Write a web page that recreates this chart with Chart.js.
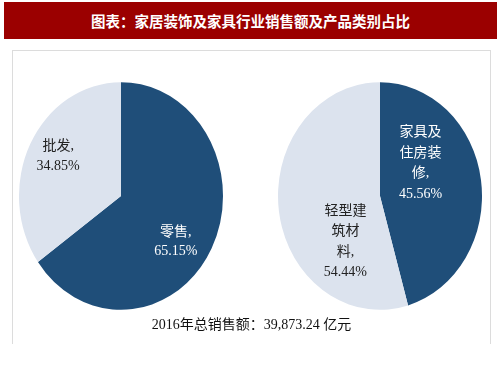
<!DOCTYPE html>
<html>
<head>
<meta charset="utf-8">
<script src="https://cdn.jsdelivr.net/npm/chart.js@4/dist/chart.umd.min.js"></script>
<style>
  body { margin: 0; width: 503px; height: 378px; background: #fff; position: relative; overflow: hidden; }
  #titre { position: absolute; left: 4px; top: 2px; width: 493px; height: 37px; background: #9b0000;
           color: #fff; font: bold 14.5px "Noto Sans CJK SC", sans-serif; text-align: center; line-height: 37px; }
  #cadre { position: absolute; left: 12px; top: 50px; width: 477px; height: 293px;
           border: 1px solid #dcdcdc; border-bottom: none; }
  .pie { position: absolute; top: 76px; width: 204px; height: 240px; }
  #total { position: absolute; left: 0; width: 503px; top: 313px; text-align: center;
           font: 14px "Liberation Serif", "Noto Sans CJK SC", serif; color: #111; }
</style>
</head>
<body>
<div id="titre">图表：家居装饰及家具行业销售额及产品类别占比</div>
<div id="cadre"></div>
<div class="pie" style="left:19px"><canvas id="pie_gauche"></canvas></div>
<div class="pie" style="left:278px"><canvas id="pie_droite"></canvas></div>
<div id="total"></div>
<script>
// DONNEES
const categoriesGauche = ['零售', '批发'];
const valeursGauche = [65.15, 34.85];
const categoriesDroite = ['家具及住房装修', '轻型建筑材料'];
const valeursDroite = [45.56, 54.44];
const totalVentes = '2016年总销售额：39,873.24 亿元';

// decoupage des noms longs sur plusieurs lignes
const decoupage = { '家具及住房装修': [3, 3, 1], '轻型建筑材料': [3, 2, 1] };

const BLEU = '#1f4e79';
const BLEU_CLAIR = '#dce3ee';
const ETIREMENT = 1.116; // le camembert est un peu ovale dans l'original

document.getElementById('total').textContent = totalVentes;

function lignesEtiquette(nom, valeur) {
    let lignes = [];
    const tailles = decoupage[nom] || [nom.length];
    let pos = 0;
    tailles.forEach(n => { lignes.push(nom.slice(pos, pos + n)); pos += n; });
    lignes[lignes.length - 1] += ',';
    lignes.push(valeur.toFixed(2) + '%');
    return lignes;
}

// etire le dessin du camembert verticalement autour de son centre
const pluginOvale = {
    id: 'ovale',
    beforeDatasetsDraw(chart) {
        const arc = chart.getDatasetMeta(0).data[0];
        const ctx = chart.ctx;
        ctx.save();
        ctx.translate(arc.x, arc.y);
        ctx.scale(1, ETIREMENT);
        ctx.translate(-arc.x, -arc.y);
    },
    afterDatasetsDraw(chart) {
        chart.ctx.restore();
    }
};

// etiquettes dans les parts
const pluginEtiquettes = {
    id: 'etiquettes',
    afterDraw(chart, args, opts) {
        const ctx = chart.ctx;
        const meta = chart.getDatasetMeta(0);
        ctx.save();
        ctx.font = '14px "Liberation Serif", "Noto Sans CJK SC", serif';
        ctx.textAlign = 'center';
        ctx.textBaseline = 'middle';
        meta.data.forEach((arc, i) => {
            const p = arc.getProps(['x', 'y', 'startAngle', 'endAngle', 'outerRadius']);
            const milieu = (p.startAngle + p.endAngle) / 2;
            const r = p.outerRadius * 0.55;
            const x = p.x + Math.cos(milieu) * r + opts.decalages[i][0];
            const y = p.y + Math.sin(milieu) * r * ETIREMENT + opts.decalages[i][1];
            const lignes = lignesEtiquette(chart.data.labels[i], chart.data.datasets[0].data[i]);
            const hauteur = opts.interligne;
            ctx.fillStyle = opts.couleurs[i];
            lignes.forEach((l, k) => {
                ctx.fillText(l, x, y + (k - (lignes.length - 1) / 2) * hauteur);
            });
        });
        ctx.restore();
    }
};

function creationCamembert(id, categories, valeurs, decalages, couleursTexte, interligne) {
    new Chart(document.getElementById(id), {
        type: 'pie',
        data: {
            labels: categories,
            datasets: [{
                data: valeurs,
                backgroundColor: [BLEU, BLEU_CLAIR],
                borderWidth: 0,
                hoverOffset: 0,
                clip: false
            }]
        },
        options: {
            responsive: true,
            maintainAspectRatio: false,
            animation: false,
            events: [],
            layout: { padding: 0 },
            plugins: {
                legend: { display: false },
                tooltip: { enabled: false },
                etiquettes: { decalages: decalages, couleurs: couleursTexte, interligne: interligne }
            }
        },
        plugins: [pluginOvale, pluginEtiquettes]
    });
}

creationCamembert('pie_gauche', categoriesGauche, valeursGauche, [[5, 17], [-13, -11]], ['#fff', '#222'], 19.5);
creationCamembert('pie_droite', categoriesDroite, valeursDroite, [[-15, -24], [21, 37]], ['#fff', '#222'], 20.5);
</script>
</body>
</html>
